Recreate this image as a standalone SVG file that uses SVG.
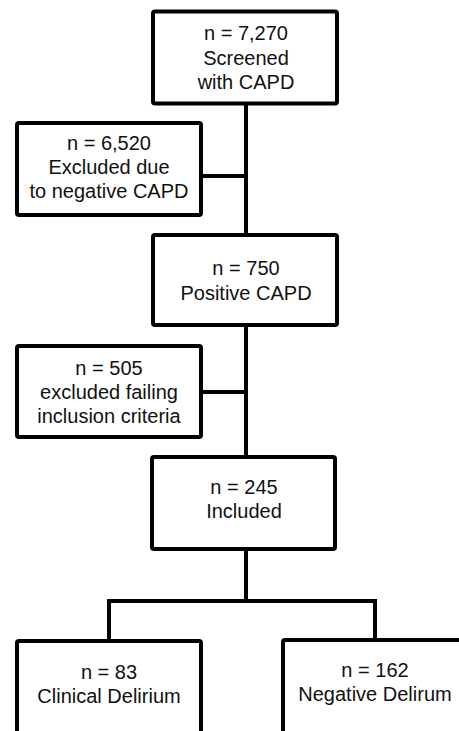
<svg xmlns="http://www.w3.org/2000/svg" width="459" height="731" viewBox="0 0 459 731">
<style>
.box{fill:#fff;stroke:#000;stroke-width:4;stroke-linejoin:round}
.conn{fill:none;stroke:#000;stroke-width:4;stroke-linecap:square}
text{font-family:"Liberation Sans",Arial,sans-serif;font-size:20px;fill:#111;text-anchor:middle}
</style>
<rect width="459" height="731" fill="#fff"/>
<g id="connectors">
<path class="conn" d="M246 105 V233 M203 176 H246 M246 327 V455 M203 392 H246 M246 551 V601 M109 601 H375 M109 601 V639 M375 601 V638"/>
</g>
<g id="screened">
<rect class="box" x="153" y="11.5" width="184" height="92" rx="2"/>
<text x="246" y="40">n = 7,270</text>
<text x="246" y="65">Screened</text>
<text x="246" y="89">with CAPD</text>
</g>
<g id="excluded-negative">
<rect class="box" x="17" y="123" width="184" height="92" rx="2"/>
<text x="109" y="150">n = 6,520</text>
<text x="109" y="174">Excluded due</text>
<text x="109" y="198">to negative CAPD</text>
</g>
<g id="positive">
<rect class="box" x="153" y="235" width="184" height="90" rx="2"/>
<text x="246" y="275">n = 750</text>
<text x="246" y="300">Positive CAPD</text>
</g>
<g id="excluded-criteria">
<rect class="box" x="17" y="346" width="184" height="91" rx="2"/>
<text x="109" y="375">n = 505</text>
<text x="109" y="399">excluded failing</text>
<text x="109" y="423">inclusion criteria</text>
</g>
<g id="included">
<rect class="box" x="152" y="457" width="183" height="92" rx="2"/>
<text x="244" y="494">n = 245</text>
<text x="244" y="518">Included</text>
</g>
<g id="clinical">
<rect class="box" x="17" y="641" width="184" height="100" rx="2"/>
<text x="109" y="679">n = 83</text>
<text x="109" y="703">Clinical Delirium</text>
</g>
<g id="negative">
<rect class="box" x="283" y="640" width="190" height="100" rx="2"/>
<text x="375" y="677">n = 162</text>
<text x="375" y="701">Negative Delirum</text>
</g>
</svg>
